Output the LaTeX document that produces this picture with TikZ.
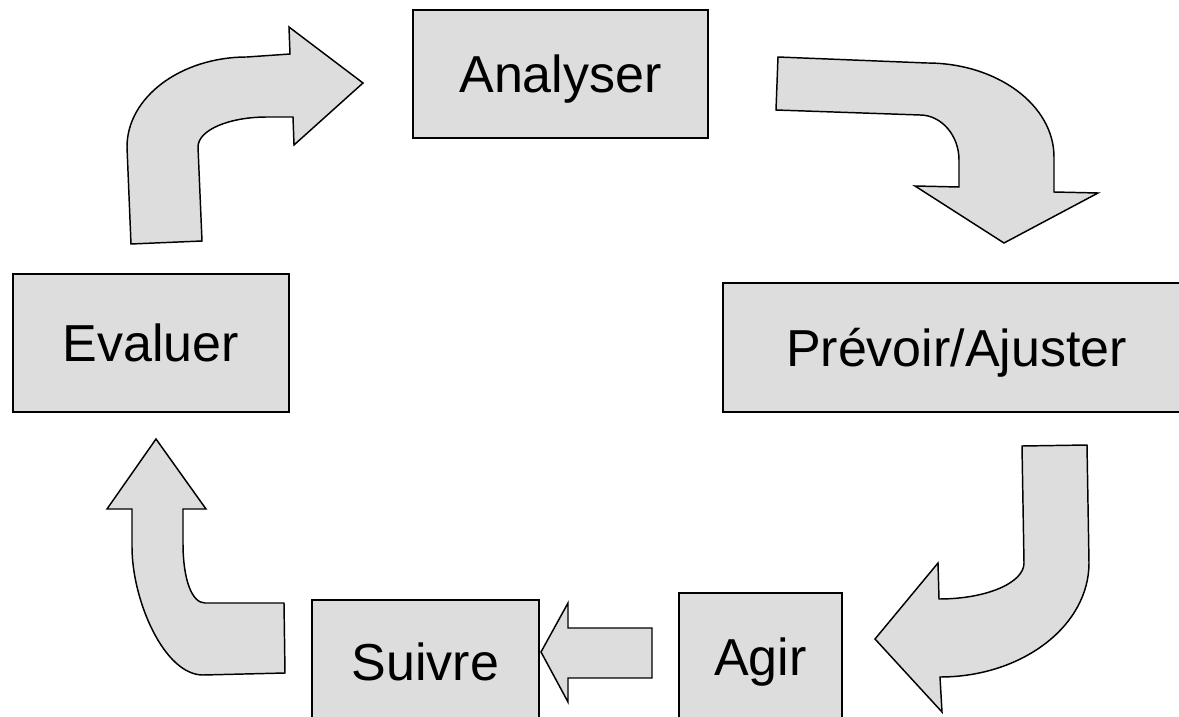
\documentclass[tikz,border=0pt]{standalone}
\usepackage{fontspec}
\setmainfont{Liberation Sans}
\definecolor{boxgray}{HTML}{DDDDDD}
\tikzset{
  stagebox/.style={draw=black, fill=boxgray, line width=1.1pt, inner sep=0pt,
    text height=27.9pt, text depth=0pt,
    font=\fontsize{39}{47}\selectfont},
  blockarrow/.style={draw=black, fill=boxgray, line width=1.1pt, line join=miter}
}
\begin{document}
\begin{tikzpicture}[x=0.75pt,y=-0.75pt]
\path[use as bounding box, clip] (0,0) rectangle (1179,717);
% stage boxes
\node[stagebox, minimum width=221.25pt, minimum height=96pt] (ana) at (560.5,74) {Analyser};
\node[stagebox, minimum width=350.25pt, minimum height=96.75pt] (prev) at (956.5,347.5) {Prévoir/Ajuster};
\node[stagebox, minimum width=207pt, minimum height=103.5pt] (eva) at (151,343) {Evaluer};
\node[stagebox, minimum width=170.25pt, minimum height=93pt] (sui) at (425.5,662) {Suivre};
\node[stagebox, minimum width=122.25pt, minimum height=96pt] (agi) at (760.5,657) {Agir};
% Evaluer -> Analyser
\draw[blockarrow] (131,244) -- (202,241) -- (198,147)
  .. controls (198,130) and (229,117) .. (267,117)
  -- (293,117) -- (294,145) -- (363,83) -- (289,27) -- (290,54) -- (247,57)
  .. controls (181,57) and (127,97) .. (127,147) -- cycle;
% Analyser -> Prevoir
\draw[blockarrow] (778,57) -- (776,110) -- (920,115)
  .. controls (941,115) and (959,135) .. (959,160)
  -- (959,187) -- (915,186) -- (1004,243) -- (1098,193) -- (1054,192) -- (1054,157)
  .. controls (1054,105) and (997,63) .. (927,63) -- cycle;
% Prevoir -> Agir
\draw[blockarrow] (1022,446) -- (1087,445) -- (1089,563)
  .. controls (1089,626) and (1022,677) .. (940,677)
  -- (942,712) -- (875,639) -- (938,563) -- (939,599)
  .. controls (986,599) and (1024,583) .. (1024,563) -- cycle;
% Agir -> Suivre
\draw[blockarrow] (541,652) -- (568,603) -- (568,628) -- (652,628) -- (652,678)
  -- (568,678) -- (568,702) -- cycle;
% Suivre -> Evaluer
\draw[blockarrow] (156,439) -- (206,509) -- (183,509) -- (183,543)
  .. controls (183,580) and (192,603) .. (205,603)
  -- (284,603) -- (285,673) -- (203,675)
  .. controls (164,675) and (132,600) .. (132,547)
  -- (132,509) -- (107,509) -- cycle;
\end{tikzpicture}
\end{document}
